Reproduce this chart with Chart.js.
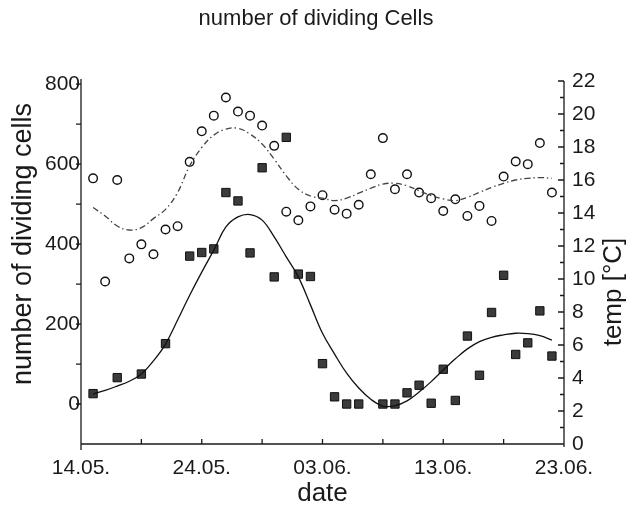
<!DOCTYPE html>
<html>
<head>
<meta charset="utf-8">
<script src="https://cdn.jsdelivr.net/npm/chart.js@4"></script>
<style>
  html, body { margin: 0; padding: 0; background: #fff; }
  #wrap { width: 637px; height: 511px; }
</style>
</head>
<body>
<div id="wrap"><canvas id="myChart" width="637" height="511"></canvas></div>
<script>
'use strict';
//days after 14.05.
var tempDays = [1, 2, 3, 4, 5, 6, 7, 8, 9, 10, 11, 12, 13, 14, 15, 16, 17, 18, 19, 20,
  21, 22, 23, 24, 25, 26, 27, 28, 29, 30, 31, 32, 33, 34, 35, 36, 37, 38, 39];
var tempValues = [16.1, 9.85, 16.0, 11.25, 12.1, 11.5, 13.0, 13.2, 17.1, 18.95, 19.9, 21.0, 20.15,
  19.9, 19.3, 18.07, 14.08, 13.56, 14.4, 15.08, 14.2, 13.96, 14.5, 16.35, 18.54, 15.44, 16.35,
  15.24, 14.9, 14.12, 14.83, 13.82, 14.43, 13.52, 16.21, 17.12, 16.96, 18.24, 15.24];

var cellDays = [1, 3, 5, 7, 9, 10, 11, 12, 13, 14, 15, 16, 17, 18, 19, 20, 21, 22, 23,
  25, 26, 27, 28, 29, 30, 31, 32, 33, 34, 35, 36, 37, 38, 39];
var cellValues = [26, 66, 75, 151, 370, 379, 388, 529, 508, 378, 591, 318, 667, 325, 319, 101, 18, 0, 0,
  0, 0, 28, 47, 2, 87, 9, 170, 72, 229, 322, 124, 153, 233, 120];

//smoothed curves
var fitDays = tempDays;
var cellFit = [25, 34, 45, 57, 75, 108, 150, 210, 272, 330, 385, 443, 468, 474, 460, 418, 368, 318, 248,
  177, 125, 77, 40, 12, -5, -4, 8, 30, 56, 85, 113, 138, 156, 167, 173, 177, 176, 171, 160];
var tempFit = [14.33, 13.82, 13.21, 12.97, 13.11, 13.66, 14.22, 15.24, 16.86, 17.97, 18.72, 19.09, 19.13,
  18.78, 18.18, 17.26, 16.25, 15.44, 15.03, 14.9, 14.75, 14.9, 15.2, 15.5, 15.75, 15.8, 15.65, 15.35,
  15.05, 14.85, 14.75, 14.95, 15.25, 15.55, 15.8, 16.0, 16.1, 16.15, 16.1];

//axis ticks
var xTickValues = [0, 10, 20, 30, 40];
var xTickLabels = ['14.05.', '24.05.', '03.06.', '13.06.', '23.06.'];
var xMinorTicks = [5, 15, 25, 35];
var leftTickValues = [0, 200, 400, 600, 800];
var leftMinorTicks = [100, 300, 500, 700];
var rightTickValues = [0, 2, 4, 6, 8, 10, 12, 14, 16, 18, 20, 22];
var rightMinorTicks = [1, 3, 5, 7, 9, 11, 13, 15, 17, 19, 21];

var FONT = '"Liberation Sans", Arial, Helvetica, sans-serif';
var INK = '#1a1a1a';

function toPoints(xs, ys){
  var pts = [];
  for(var i = 0; i < xs.length; i++){
    pts.push({x: xs[i], y: ys[i]});
  }
  return pts;
}

function setTicks(values){
  return function(scale){
    scale.ticks = values.map(function(v){ return {value: v}; });
  };
}

//tick marks and titles
var decorPlugin = {
  id: 'decor',
  afterDraw: function(chart){
    var ctx = chart.ctx;
    var area = chart.chartArea;
    var sx = chart.scales.x;
    var sl = chart.scales.yLeft;
    var sr = chart.scales.yRight;
    var i, p;

    ctx.save();
    ctx.strokeStyle = INK;
    ctx.lineWidth = 1.3;
    ctx.beginPath();
    //left ticks outward
    var leftAll = leftTickValues.concat(leftMinorTicks);
    for(i = 0; i < leftAll.length; i++){
      p = sl.getPixelForValue(leftAll[i]);
      ctx.moveTo(area.left - 5, p);
      ctx.lineTo(area.left, p);
    }
    //right ticks inward
    for(i = 0; i < rightTickValues.length; i++){
      p = sr.getPixelForValue(rightTickValues[i]);
      ctx.moveTo(area.right - 6, p);
      ctx.lineTo(area.right, p);
    }
    for(i = 0; i < rightMinorTicks.length; i++){
      p = sr.getPixelForValue(rightMinorTicks[i]);
      ctx.moveTo(area.right - 4, p);
      ctx.lineTo(area.right, p);
    }
    //bottom ticks inward
    var xAll = xTickValues.concat(xMinorTicks);
    for(i = 0; i < xAll.length; i++){
      p = sx.getPixelForValue(xAll[i]);
      ctx.moveTo(p, area.bottom);
      ctx.lineTo(p, area.bottom - 5);
    }
    //axis lines
    ctx.moveTo(area.left, area.top - 2);
    ctx.lineTo(area.left, area.bottom + 6);
    ctx.moveTo(area.left, area.bottom);
    ctx.lineTo(area.right, area.bottom);
    ctx.moveTo(area.right, area.top);
    ctx.lineTo(area.right, area.bottom + 3);
    ctx.stroke();

    //titles
    ctx.fillStyle = INK;
    ctx.textAlign = 'center';
    ctx.textBaseline = 'middle';
    ctx.font = '22px ' + FONT;
    ctx.fillText('number of dividing Cells', 316, 19);

    ctx.font = '26px ' + FONT;
    ctx.fillText('date', (area.left + area.right) / 2, 494);

    ctx.save();
    ctx.translate(24, 244);
    ctx.rotate(-Math.PI / 2);
    ctx.font = '27px ' + FONT;
    ctx.fillText('number of dividing cells', 0, 0);
    ctx.restore();

    ctx.save();
    ctx.translate(614, 292);
    ctx.rotate(-Math.PI / 2);
    ctx.font = '26px ' + FONT;
    ctx.fillText('temp [\u00B0C]', 0, 0);
    ctx.restore();

    ctx.restore();
  }
};

var ctx = document.getElementById('myChart').getContext('2d');

var chartConfig = {
  type: 'scatter',
  data: {
    datasets: [
      {
        label: 'cells fit',
        data: toPoints(fitDays, cellFit),
        yAxisID: 'yLeft',
        showLine: true,
        pointRadius: 0,
        borderColor: '#111',
        borderWidth: 1.3,
        tension: 0.4,
        fill: false,
      },
      {
        label: 'temp fit',
        data: toPoints(fitDays, tempFit),
        yAxisID: 'yRight',
        showLine: true,
        pointRadius: 0,
        borderColor: '#444',
        borderWidth: 1.3,
        borderDash: [6, 3, 1.5, 3],
        tension: 0.4,
        fill: false,
      },
      {
        label: 'temp',
        data: toPoints(tempDays, tempValues),
        yAxisID: 'yRight',
        pointStyle: 'circle',
        pointRadius: 4.3,
        pointBorderWidth: 1.4,
        pointBorderColor: '#111',
        pointBackgroundColor: '#fff',
      },
      {
        label: 'dividing cells',
        data: toPoints(cellDays, cellValues),
        yAxisID: 'yLeft',
        pointStyle: 'rect',
        pointRadius: 5.9,
        pointBorderWidth: 1,
        pointBorderColor: '#111',
        pointBackgroundColor: '#3b3b3b',
      },
    ]
  },
  options: {
    responsive: false,
    animation: false,
    layout: { padding: { top: 81, left: 0, right: 0, bottom: 0 } },
    plugins: {
      legend: { display: false },
      title: { display: false },
      tooltip: { enabled: false },
    },
    scales: {
      x: {
        type: 'linear',
        position: 'bottom',
        min: 0,
        max: 40,
        afterBuildTicks: setTicks(xTickValues),
        afterFit: function(scale){ scale.height = 67; },
        grid: { display: false, drawTicks: false },
        border: { display: false },
        ticks: {
          padding: 12,
          color: INK,
          font: { family: FONT, size: 21 },
          maxRotation: 0,
          autoSkip: false,
          callback: function(value){
            return xTickLabels[xTickValues.indexOf(value)];
          }
        }
      },
      yLeft: {
        type: 'linear',
        position: 'left',
        min: -100,
        max: 808,
        afterBuildTicks: setTicks(leftTickValues),
        afterFit: function(scale){ scale.width = 81; },
        grid: { display: false, drawTicks: false },
        border: { display: false },
        ticks: {
          padding: 1,
          color: INK,
          font: { family: FONT, size: 21 },
          autoSkip: false,
        }
      },
      yRight: {
        type: 'linear',
        position: 'right',
        min: 0,
        max: 22,
        afterBuildTicks: setTicks(rightTickValues),
        afterFit: function(scale){ scale.width = 73; },
        grid: { display: false, drawTicks: false },
        border: { display: false },
        ticks: {
          padding: 8,
          color: INK,
          font: { family: FONT, size: 21 },
          autoSkip: false,
        }
      }
    }
  },
  plugins: [decorPlugin]
};

new Chart(ctx, chartConfig);
</script>
</body>
</html>
